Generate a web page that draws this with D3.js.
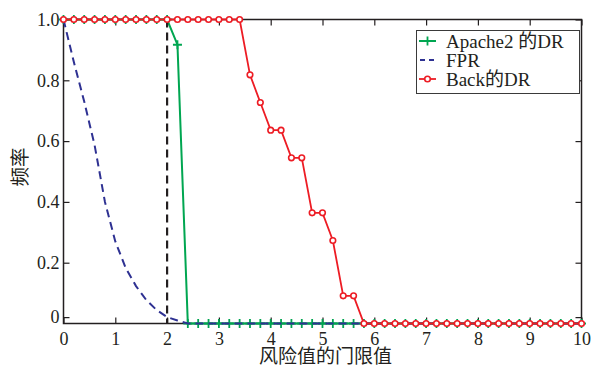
<!DOCTYPE html>
<html>
  <head>
    <meta charset="utf-8">
    <title>风险值的门限值</title>
    <script src="https://d3js.org/d3.v7.min.js"></script>
    <style>
      body { margin: 0; background: #fff; }
      svg text { font-family: "Liberation Serif", "Noto Sans CJK SC", serif; fill: #231f20; }
    </style>
  </head>
  <body>
    <div id="chart"></div>
    <script>
      // thresholds (x) and the three series
      var thresholds = [0, 0.2, 0.4, 0.6, 0.8, 1.0, 1.2, 1.4, 1.6, 1.8,
        2.0, 2.2, 2.4, 2.6, 2.8, 3.0, 3.2, 3.4, 3.6, 3.8,
        4.0, 4.2, 4.4, 4.6, 4.8, 5.0, 5.2, 5.4, 5.6, 5.8,
        6.0, 6.2, 6.4, 6.6, 6.8, 7.0, 7.2, 7.4, 7.6, 7.8,
        8.0, 8.2, 8.4, 8.6, 8.8, 9.0, 9.2, 9.4, 9.6, 9.8, 10.0];

      var apacheDR = [1, 1, 1, 1, 1, 1, 1, 1, 1, 1,
        1, 0.917, 0, 0, 0, 0, 0, 0, 0, 0,
        0, 0, 0, 0, 0, 0, 0, 0, 0, 0,
        0, 0, 0, 0, 0, 0, 0, 0, 0, 0,
        0, 0, 0, 0, 0, 0, 0, 0, 0, 0, 0];

      var fpr = [1, 0.86, 0.73, 0.587, 0.4, 0.27, 0.183, 0.123, 0.077, 0.044,
        0.021, 0.01, 0, 0, 0, 0, 0, 0, 0, 0,
        0, 0, 0, 0, 0, 0, 0, 0, 0, 0,
        0, 0, 0, 0, 0, 0, 0, 0, 0, 0,
        0, 0, 0, 0, 0, 0, 0, 0, 0, 0, 0];

      var backDR = [1, 1, 1, 1, 1, 1, 1, 1, 1, 1,
        1, 1, 1, 1, 1, 1, 1, 1, 0.818, 0.727,
        0.636, 0.636, 0.545, 0.545, 0.364, 0.364, 0.273, 0.091, 0.091, 0,
        0, 0, 0, 0, 0, 0, 0, 0, 0, 0,
        0, 0, 0, 0, 0, 0, 0, 0, 0, 0, 0];

      var cutoff = 2;
      var xTicks = [0, 1, 2, 3, 4, 5, 6, 7, 8, 9, 10];
      var yTicks = [0.021, 0.2, 0.4, 0.6, 0.8, 1.0];
      var yTickLabels = ["0", "0.2", "0.4", "0.6", "0.8", "1.0"];
      var legendNames = ["Apache2 的DR", "FPR", "Back的DR"];

      var green = "#00a651", blue = "#2e3192", red = "#ed1c24", ink = "#231f20";

      var width = 591, height = 366;
      var plotL = 63.5, plotR = 581.5, plotT = 19.5, plotB = 323.5;

      var svg = d3.select("#chart")
        .append("svg")
        .attr("width", width)
        .attr("height", height);

      var x = d3.scaleLinear().domain([0, 10]).range([plotL, plotR]);
      var y = d3.scaleLinear().domain([0, 1]).range([plotB, plotT]);

      // frame
      svg.append("rect")
        .attr("x", plotL).attr("y", plotT)
        .attr("width", plotR - plotL).attr("height", plotB - plotT)
        .attr("fill", "none").attr("stroke", ink).attr("stroke-width", 1.5);

      function styleAxis(g, labels) {
        g.select(".domain").remove();
        g.selectAll(".tick line").attr("stroke", ink).attr("stroke-width", 1.2);
        g.selectAll(".tick text")
          .attr("font-size", "18px")
          .attr("font-family", "Liberation Serif, serif")
          .attr("fill", ink);
        if (!labels) g.selectAll(".tick text").remove();
      }

      svg.append("g")
        .attr("transform", "translate(0," + plotB + ")")
        .call(d3.axisBottom(x).tickValues(xTicks).tickSizeInner(-6).tickSizeOuter(0).tickPadding(9))
        .call(styleAxis, true);

      svg.append("g")
        .attr("transform", "translate(0," + plotT + ")")
        .call(d3.axisTop(x).tickValues(xTicks).tickSizeInner(-6).tickSizeOuter(0))
        .call(styleAxis, false);

      svg.append("g")
        .attr("transform", "translate(" + plotL + ",0)")
        .call(d3.axisLeft(y).tickValues(yTicks).tickSizeInner(-6).tickSizeOuter(0).tickPadding(4)
          .tickFormat(function(d, i) { return yTickLabels[i]; }))
        .call(styleAxis, true);

      svg.append("g")
        .attr("transform", "translate(" + plotR + ",0)")
        .call(d3.axisRight(y).tickValues(yTicks).tickSizeInner(-6).tickSizeOuter(0))
        .call(styleAxis, false);

      // series
      function points(vals) {
        return thresholds.map(function(t, i) { return [t, vals[i]]; });
      }
      var line = d3.line()
        .x(function(d) { return x(d[0]); })
        .y(function(d) { return y(d[1]); });

      var plot = svg.append("g");

      // Apache2 DR: green line with + markers
      plot.append("path")
        .datum(points(apacheDR))
        .attr("d", line)
        .attr("fill", "none").attr("stroke", green).attr("stroke-width", 2);
      plot.selectAll(".plus")
        .data(points(apacheDR))
        .enter()
        .append("path")
        .attr("class", "plus")
        .attr("d", function(d) {
          var cx = x(d[0]), cy = y(d[1]), s = 4.5;
          return "M" + (cx - s) + "," + cy + "H" + (cx + s) + "M" + cx + "," + (cy - s) + "V" + (cy + s);
        })
        .attr("stroke", green).attr("stroke-width", 1.8);

      // FPR: blue dashed
      plot.append("path")
        .datum(points(fpr))
        .attr("d", line)
        .attr("fill", "none").attr("stroke", blue).attr("stroke-width", 2)
        .attr("stroke-dasharray", "8,5");

      // threshold marker
      plot.append("line")
        .attr("x1", x(cutoff)).attr("x2", x(cutoff))
        .attr("y1", y(1)).attr("y2", y(0))
        .attr("stroke", ink).attr("stroke-width", 2.2)
        .attr("stroke-dasharray", "8,5");

      // Back DR: red line with open circles
      plot.append("path")
        .datum(points(backDR))
        .attr("d", line)
        .attr("fill", "none").attr("stroke", red).attr("stroke-width", 1.8);
      plot.selectAll(".dot")
        .data(points(backDR))
        .enter()
        .append("circle")
        .attr("class", "dot")
        .attr("cx", function(d) { return x(d[0]); })
        .attr("cy", function(d) { return y(d[1]); })
        .attr("r", 2.8)
        .attr("fill", "#fff").attr("stroke", red).attr("stroke-width", 1.6);

      // axis titles
      svg.append("text")
        .attr("x", (plotL + plotR) / 2 + 3)
        .attr("y", 363)
        .attr("text-anchor", "middle")
        .attr("font-size", "19px")
        .text("风险值的门限值");

      svg.append("text")
        .attr("transform", "translate(27,167) rotate(-90)")
        .attr("text-anchor", "middle")
        .attr("font-size", "19.5px")
        .text("频率");

      // legend
      var legend = svg.append("g");
      legend.append("rect")
        .attr("x", 416.5).attr("y", 30.5).attr("width", 163).attr("height", 63)
        .attr("fill", "#fff").attr("stroke", "#3a3a3a").attr("stroke-width", 1);

      var rowY = [41, 60, 79];
      var lx0 = 419, lx1 = 436, mx = 427.5;

      legend.append("line")
        .attr("x1", lx0).attr("x2", lx1).attr("y1", rowY[0]).attr("y2", rowY[0])
        .attr("stroke", green).attr("stroke-width", 2);
      legend.append("path")
        .attr("d", "M" + (mx - 4.5) + "," + rowY[0] + "H" + (mx + 4.5) + "M" + mx + "," + (rowY[0] - 4.5) + "V" + (rowY[0] + 4.5))
        .attr("stroke", green).attr("stroke-width", 1.8);

      legend.append("line")
        .attr("x1", lx0 + 1).attr("x2", lx1).attr("y1", rowY[1]).attr("y2", rowY[1])
        .attr("stroke", blue).attr("stroke-width", 2).attr("stroke-dasharray", "5,4");

      legend.append("line")
        .attr("x1", lx0).attr("x2", lx1).attr("y1", rowY[2]).attr("y2", rowY[2])
        .attr("stroke", red).attr("stroke-width", 1.8);
      legend.append("circle")
        .attr("cx", mx).attr("cy", rowY[2]).attr("r", 2.8)
        .attr("fill", "#fff").attr("stroke", red).attr("stroke-width", 1.6);

      legend.selectAll(".label")
        .data(legendNames)
        .enter()
        .append("text")
        .attr("class", "label")
        .attr("x", 446)
        .attr("y", function(d, i) { return rowY[i] + 7; })
        .attr("font-size", "19px")
        .text(function(d) { return d; });
    </script>
  </body>
</html>
